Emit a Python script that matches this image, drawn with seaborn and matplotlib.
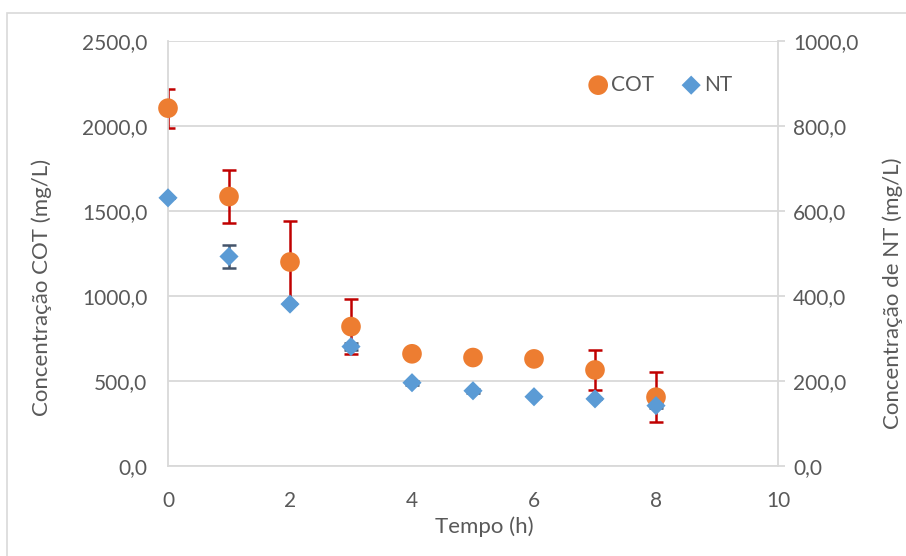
import numpy as np
import pandas as pd
import matplotlib
matplotlib.use("Agg")
import matplotlib.pyplot as plt
import seaborn as sns
from matplotlib.ticker import FuncFormatter
from matplotlib.patches import Rectangle

tempo = [0, 1, 2, 3, 4, 5, 6, 7, 8]
cot = [2105, 1585, 1200, 820, 660, 638, 630, 565, 405]
cot_err = [115, 155, 240, 160, 22, 18, 20, 115, 148]
nt = [631, 493, 381, 281, 196, 177, 163, 158, 142]
nt_err = [0, 26, 0, 8, 5, 5, 0, 0, 5]

sns.set_theme(style="white")
plt.rcParams['font.family'] = ['Lato', 'DejaVu Sans']
txt = "#595959"
grid = "#D9D9D9"

W, H = 906, 556
fig = plt.figure(figsize=(W / 100, H / 100), dpi=100)
ax = fig.add_axes([168 / W, 1 - 466 / H, 610 / W, 425 / H])
ax2 = ax.twinx()

df = pd.DataFrame({"Tempo": tempo, "COT": cot, "NT": nt})

ax.errorbar(tempo, cot, yerr=cot_err, fmt='none', ecolor="#C00000", elinewidth=1.8,
            capsize=5, capthick=1.8, zorder=2)
sns.scatterplot(data=df, x="Tempo", y="COT", ax=ax, marker='o', s=200, color="#ED7D31",
                edgecolor="none", zorder=3, label="COT", legend=False, clip_on=False)
ax2.errorbar(tempo, nt, yerr=nt_err, fmt='none', ecolor="#44546A", elinewidth=1.8,
             capsize=5, capthick=1.8, zorder=2)
sns.scatterplot(data=df, x="Tempo", y="NT", ax=ax2, marker='D', s=95, color="#5B9BD5",
                edgecolor="none", zorder=3, label="NT", legend=False, clip_on=False)

ax.set_xlim(0, 10)
ax.set_ylim(0, 2500)
ax2.set_ylim(0, 1000)
ax.set_xticks(range(0, 11, 2))
ax.set_yticks(np.arange(0, 2501, 500))
ax2.set_yticks(np.arange(0, 1001, 200))
fmt = FuncFormatter(lambda v, p: f"{v:.1f}".replace('.', ','))
ax.yaxis.set_major_formatter(fmt)
ax2.yaxis.set_major_formatter(fmt)

ax.yaxis.grid(True, color=grid, linewidth=1.3)
ax.set_axisbelow(True)
for a in (ax, ax2):
    for s in a.spines.values():
        s.set_visible(False)
    a.tick_params(colors=txt, labelsize=15, length=0)
for a, side in ((ax, 'left'), (ax2, 'right'), (ax, 'bottom')):
    a.spines[side].set_visible(True)
    a.spines[side].set_color(grid)
    a.spines[side].set_linewidth(1.3)
ax2.tick_params(axis='y', length=5, color=grid, direction='out', width=1.3, pad=6)
ax.tick_params(axis='x', pad=18)
ax.tick_params(axis='y', pad=15)
ax.set_xlabel("")
ax.set_ylabel("")
ax2.set_ylabel("")

fig.text(484 / W, 1 - 527 / H, "Tempo (h)", fontsize=16, color=txt, ha='center', va='center')
fig.text(42 / W, 1 - 287 / H, "Concentração COT (mg/L)", fontsize=16, color=txt,
         ha='center', va='center', rotation=90)
fig.text(893 / W, 1 - 293 / H, "Concentração de NT (mg/L)", fontsize=16, color=txt,
         ha='center', va='center', rotation=90)

h1, l1 = ax.get_legend_handles_labels()
h2, l2 = ax2.get_legend_handles_labels()
leg = ax2.legend(h1 + h2, l1 + l2, loc='upper right', bbox_to_anchor=(0.955, 0.965), ncol=2,
                 frameon=False, fontsize=15, handletextpad=0.0, columnspacing=1.2,
                 handlelength=1.2, labelcolor=txt)

fig.patches.append(Rectangle((7 / W, -0.01), 1.0, 1 - 13 / H + 0.01,
                             transform=fig.transFigure, fill=False,
                             edgecolor="#D9D9D9", linewidth=1.2))

fig.savefig("out.png", dpi=100)
